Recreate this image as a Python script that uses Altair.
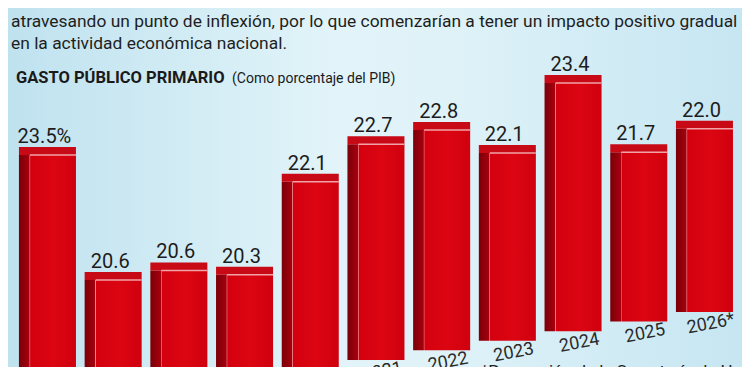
import altair as alt
import pandas as pd

# ---- data ----
years = ["2016", "2017", "2018", "2019", "2020", "2021", "2022", "2023", "2024", "2025", "2026*"]
values = [23.5, 20.6, 20.6, 20.3, 22.1, 22.7, 22.8, 22.1, 23.4, 21.7, 22.0]
value_labels = ["23.5%", "20.6", "20.6", "20.3", "22.1", "22.7", "22.8", "22.1", "23.4", "21.7", "22.0"]

paragraph = [
    "La incertidumbre, política fiscal y monetaria, así como la actividad petrolera, podrían estar",
    "atravesando un punto de inflexión, por lo que comenzarían a tener un impacto positivo gradual",
    "en la actividad económica nacional.",
]
heading = "GASTO PÚBLICO PRIMARIO"
subheading = "(Como porcentaje del PIB)"
footnote = "*Proyección de la Secretaría de Hacienda"

# ---- presentation (perspective tilt of the original drawing) ----
TILT = 0.2065      # value units the scene rises per bar (perspective)
BASE = 18.05       # where the bars start
W, H = 734, 359
FONT = "Roboto"

df = pd.DataFrame({
    "year": years,
    "value": values,
    "label": value_labels,
    "idx": list(range(len(years))),
})
df["top"] = df["value"] + df["idx"] * TILT
df["base"] = BASE + df["idx"] * TILT

x_enc = alt.X("year:N", sort=years, axis=None,
              scale=alt.Scale(range=[6.6, 729.3], paddingInner=0.132, paddingOuter=0.066))
y_scale = alt.Scale(domain=[18.93, 26.67], zero=False, nice=False)

base = alt.Chart(df)

bg = alt.Chart(alt.Data(values=[{}])).mark_rect(
    color=alt.Gradient(
        gradient="linear", x1=0, x2=1, y1=0, y2=0,
        stops=[
            alt.GradientStop(color="#bfe2ef", offset=0),
            alt.GradientStop(color="#e2f4f9", offset=0.45),
            alt.GradientStop(color="#dff2f8", offset=0.6),
            alt.GradientStop(color="#c6e6f2", offset=1),
        ],
    )
).encode(x=alt.value(0), x2=alt.value(W), y=alt.value(0), y2=alt.value(H))

bars = base.mark_bar(
    clip=True,
    color=alt.Gradient(
        gradient="linear", x1=0, x2=1, y1=0, y2=0,
        stops=[
            alt.GradientStop(color="#7a0008", offset=0),
            alt.GradientStop(color="#a5000d", offset=0.18),
            alt.GradientStop(color="#ee8a90", offset=0.19),
            alt.GradientStop(color="#d4000f", offset=0.205),
            alt.GradientStop(color="#dc0612", offset=0.6),
            alt.GradientStop(color="#d0000e", offset=1),
        ],
    ),
).encode(
    x=x_enc,
    y=alt.Y("top:Q", scale=y_scale, axis=None),
    y2="base:Q",
)

top_face = base.mark_tick(
    yOffset=-4, thickness=8, size=57, color="#c70a16", opacity=1
).encode(x=x_enc, y=alt.Y("top:Q", scale=y_scale, axis=None))

top_edge = base.mark_tick(
    thickness=1.5, size=46, xOffset=5.5, color="#f2a3a8", opacity=1
).encode(x=x_enc, y=alt.Y("top:Q", scale=y_scale, axis=None))

val_text = base.mark_text(
    font=FONT, fontSize=20, color="#1c1c1c", baseline="bottom", dy=-8, dx=-3
).encode(x=x_enc, y=alt.Y("top:Q", scale=y_scale, axis=None), text="label:N")

year_text = base.mark_text(
    font=FONT, fontSize=18, color="#2a2a2a", baseline="middle", angle=349, dx=4, dy=13
).encode(x=x_enc, y=alt.Y("base:Q", scale=y_scale, axis=None), text="year:N")

one = alt.Data(values=[{}])
para_layers = []
for i, line in enumerate(paragraph):
    para_layers.append(
        alt.Chart(one).mark_text(
            text=line, font=FONT, fontSize=17.4, color="#1e1e1e", align="left", baseline="alphabetic"
        ).encode(x=alt.value(3), y=alt.value(-3 + 22 * i))
    )

head = alt.Chart(one).mark_text(
    text=heading, font=FONT, fontSize=16.5, fontWeight="bold", color="#1a1a1a",
    align="left", baseline="alphabetic"
).encode(x=alt.value(8), y=alt.value(75))

subhead = alt.Chart(one).mark_text(
    text=subheading, font=FONT, fontSize=14, color="#1a1a1a",
    align="left", baseline="alphabetic"
).encode(x=alt.value(224), y=alt.value(75))

foot = alt.Chart(one).mark_text(
    text=footnote, font=FONT, fontSize=17, color="#222222",
    align="left", baseline="top"
).encode(x=alt.value(473), y=alt.value(356))

chart = alt.layer(
    bg, bars, top_face, top_edge, val_text, year_text, *para_layers, head, subhead, foot
).properties(
    width=W, height=H, padding=0, autosize="none"
).configure_view(stroke=None)

chart.save("out.html", embed_options={"renderer": "svg", "actions": False})
